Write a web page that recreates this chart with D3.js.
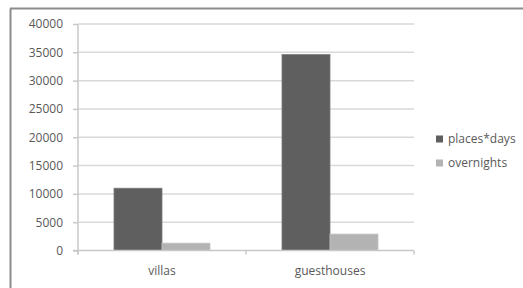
<!DOCTYPE html>
<html><head><meta charset="utf-8">
<script src="https://cdn.jsdelivr.net/npm/d3@7"></script>
<style>body{margin:0;background:#fff}svg{display:block}text{font-family:"Open Sans",sans-serif;fill:#595959}</style>
</head><body><svg id="c" width="523" height="288"></svg>
<script>
const categories = ["villas", "guesthouses"];
const seriesNames = ["places*days", "overnights"];
const placesDays = [11000, 34600];
const overnights = [1300, 2900];
const yTicks = [0, 5000, 10000, 15000, 20000, 25000, 30000, 35000, 40000];
const colors = ["#5f5f5f", "#b3b3b3"];

const svg = d3.select("#c");
// outer frame (left + top only visible)
svg.append("line").attr("x1",10.5).attr("x2",10.5).attr("y1",8.5).attr("y2",288).attr("stroke","#8c8c8c").attr("stroke-width",2);
svg.append("line").attr("x1",10).attr("x2",523).attr("y1",8.5).attr("y2",8.5).attr("stroke","#8c8c8c").attr("stroke-width",2);

const L = 78, R = 414, T = 24, B = 250.5;
const x = d3.scaleBand().domain(categories).range([L, R]);
const y = d3.scaleLinear().domain([0, 40000]).range([B, T]);
const inner = d3.scaleBand().domain(seriesNames).range([0, x.bandwidth()]).paddingInner(0).paddingOuter(0.75);

// gridlines
svg.append("g").selectAll("line").data(yTicks.filter(d=>d>0)).join("line")
  .attr("x1", L).attr("x2", R).attr("y1", d=>y(d)).attr("y2", d=>y(d))
  .attr("stroke", "#d9d9d9").attr("stroke-width", 1.5);

// y axis
const yAxis = svg.append("g").attr("transform", `translate(${L},0)`)
  .call(d3.axisLeft(y).tickValues(yTicks).tickSize(5).tickPadding(10).tickFormat(d3.format("d")));
yAxis.select(".domain").attr("stroke", "#c8c8c8").attr("stroke-width",1.5).attr("d", `M0,${T}V${B+4}`);
yAxis.selectAll(".tick line").attr("stroke", "#c8c8c8").attr("stroke-width",1.5);
yAxis.selectAll("text").style("font-size","12px").attr("fill","#595959");

// bars
const series = [placesDays, overnights];
const g = svg.append("g");
seriesNames.forEach((s, si) => {
  g.selectAll(null).data(categories).join("rect")
    .attr("x", c => x(c) + inner(s))
    .attr("width", inner.bandwidth())
    .attr("y", (c, i) => y(series[si][i]))
    .attr("height", (c, i) => B - y(series[si][i]))
    .attr("fill", colors[si])
    .attr("stroke", si===0 ? "#7a7a7a" : "#c4c4c4").attr("stroke-width", 0.8);
});

// x axis
const xAxis = svg.append("g").attr("transform", `translate(0,${B})`)
  .call(d3.axisBottom(x).tickSize(0).tickPadding(16));
xAxis.select(".domain").attr("stroke", "#c8c8c8").attr("stroke-width",1.5).attr("d", `M${L-5},0H${R}`);
xAxis.selectAll("text").style("font-size","12px").attr("fill","#595959");
svg.append("g").selectAll("line").data([L, L + x.bandwidth(), R]).join("line")
  .attr("x1", d=>d).attr("x2", d=>d).attr("y1", B).attr("y2", B+4)
  .attr("stroke", "#c8c8c8").attr("stroke-width",1.5);

// legend
const lg = svg.append("g");
seriesNames.forEach((s, i) => {
  const cy = 139 + i * 24;
  lg.append("rect").attr("x", 436).attr("y", cy - 3.5).attr("width", 7).attr("height", 7).attr("fill", colors[i]);
  lg.append("text").attr("x", 448).attr("y", cy).attr("dy", "0.35em").style("font-size", "12px").text(s);
});
</script></body></html>
